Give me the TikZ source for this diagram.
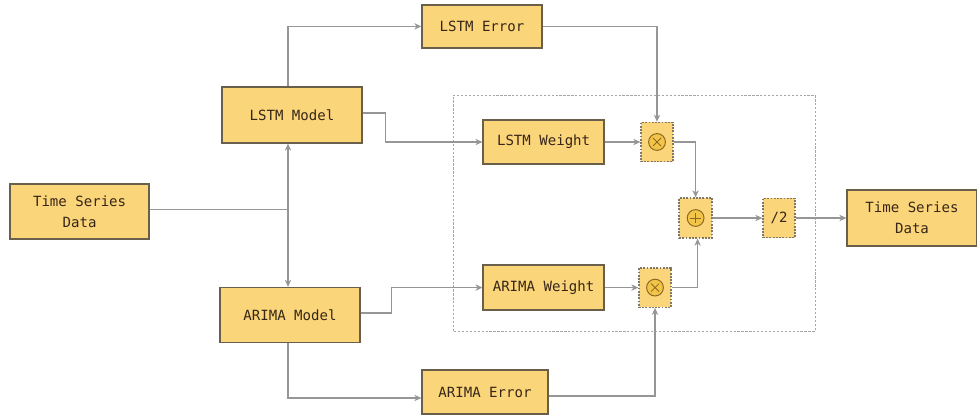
\documentclass[tikz,border=0pt]{standalone}
\usepackage{fontspec}
\newfontfamily\boxfont{DejaVu Sans Mono}
\usetikzlibrary{arrows.meta}
\definecolor{boxfill}{RGB}{250,213,122}
\definecolor{boxline}{RGB}{105,95,75}
\definecolor{boxtext}{RGB}{55,38,24}
\definecolor{wire}{RGB}{150,150,150}
\definecolor{opfill}{RGB}{242,196,72}
\definecolor{opline}{RGB}{140,105,35}

\begin{document}
\begin{tikzpicture}[
        block/.style={draw=boxline,line width=0.9pt,fill=boxfill,text=boxtext,font=\boxfont\fontsize{10}{15}\selectfont,align=center,inner sep=0pt},
        opbox/.style={draw=boxline!85,line width=0.9pt,fill=boxfill,dash pattern=on 1.3pt off 1pt,minimum width=0.8cm,minimum height=0.98cm,inner sep=0pt},
        mulop/.style={opbox,path picture={
            \draw[opline,fill=opfill,solid,line width=0.7pt] (path picture bounding box.center) circle (0.21);
            \draw[opline,solid,line width=0.6pt] ([shift={(-0.1,-0.1)}]path picture bounding box.center) -- ++(0.2,0.2)
                ([shift={(-0.1,0.1)}]path picture bounding box.center) -- ++(0.2,-0.2);}},
        addop/.style={opbox,path picture={
            \draw[opline,fill=opfill,solid,line width=0.7pt] (path picture bounding box.center) circle (0.21);
            \draw[opline,solid,line width=0.6pt] ([xshift=-0.13cm]path picture bounding box.center) -- ++(0.26,0)
                ([yshift=-0.13cm]path picture bounding box.center) -- ++(0,0.26);}},
        wire/.style={draw=wire,line width=0.75pt},
        arr/.style={wire,-{Stealth[length=5pt,width=4.5pt,inset=1.5pt]}}
    ]
            \useasboundingbox (0,0) rectangle (24.425,10.45);
            \draw[wire!85,line width=0.7pt,dash pattern=on 1.6pt off 1.2pt] (11.325,2.175) rectangle (20.375,8.075);

            \node[block,minimum width=3.475cm,minimum height=1.375cm] (tsdIn) at (1.99,5.16) {Time Series\\Data};
            \node[block,minimum width=3.5cm,minimum height=1.4cm] (lstmModel) at (7.3,7.575) {LSTM Model};
            \node[block,minimum width=3.5cm,minimum height=1.375cm] (arimaModel) at (7.25,2.575) {ARIMA Model};
            \node[block,minimum width=3cm,minimum height=1.075cm] (lstmError) at (12.05,9.79) {LSTM Error};
            \node[block,minimum width=3.15cm,minimum height=1.1cm] (arimaError) at (12.125,0.65) {ARIMA Error};
            \node[block,minimum width=3.025cm,minimum height=1.1cm] (lstmWeight) at (13.59,6.9) {LSTM Weight};
            \node[block,minimum width=3.025cm,minimum height=1.125cm] (arimaWeight) at (13.59,3.26) {ARIMA Weight};
            \node[mulop] (mulTop) at (16.425,6.9) {};
            \node[mulop] (mulBot) at (16.375,3.26) {};
            \node[addop,minimum width=0.825cm,minimum height=1cm] (sum) at (17.39,5.0) {};
            \node[opbox,text=boxtext,font=\boxfont\fontsize{10}{12}\selectfont] (half) at (19.475,5.0) {/2};
            \node[block,minimum width=3.25cm,minimum height=1.4cm] (tsdOut) at (22.8,5.0) {Time Series\\Data};

            \coordinate (split) at (7.2,5.22);
            \draw[wire] (tsdIn.east |- split) -- (split);
            \draw[arr] (split) -- (split |- lstmModel.south);
            \draw[arr] (split) -- (split |- arimaModel.north);
            \draw[arr] (split |- lstmModel.north) |- (lstmError.west);
            \draw[arr] (split |- arimaModel.south) |- ([yshift=-0.15cm]arimaError.west);
            \draw[arr] ([yshift=0.05cm]lstmModel.east) -- ++(0.575,0) |- (lstmWeight.west);
            \draw[arr] ([yshift=0.05cm]arimaModel.east) -- ++(0.775,0) |- (arimaWeight.west);
            \draw[arr] (lstmError.east) -| (mulTop.north);
            \draw[arr] ([yshift=-0.1cm]arimaError.east) -| (mulBot.south);
            \draw[arr] (lstmWeight.east) -- (mulTop.west);
            \draw[arr] (arimaWeight.east) -- (mulBot.west);
            \draw[arr] (mulTop.east) -| (sum.north);
            \draw[arr] (mulBot.east) -| ([xshift=0.05cm]sum.south);
            \draw[arr] (sum.east) -- (half.west);
            \draw[arr] (half.east) -- (tsdOut.west);
        \end{tikzpicture}
\end{document}
